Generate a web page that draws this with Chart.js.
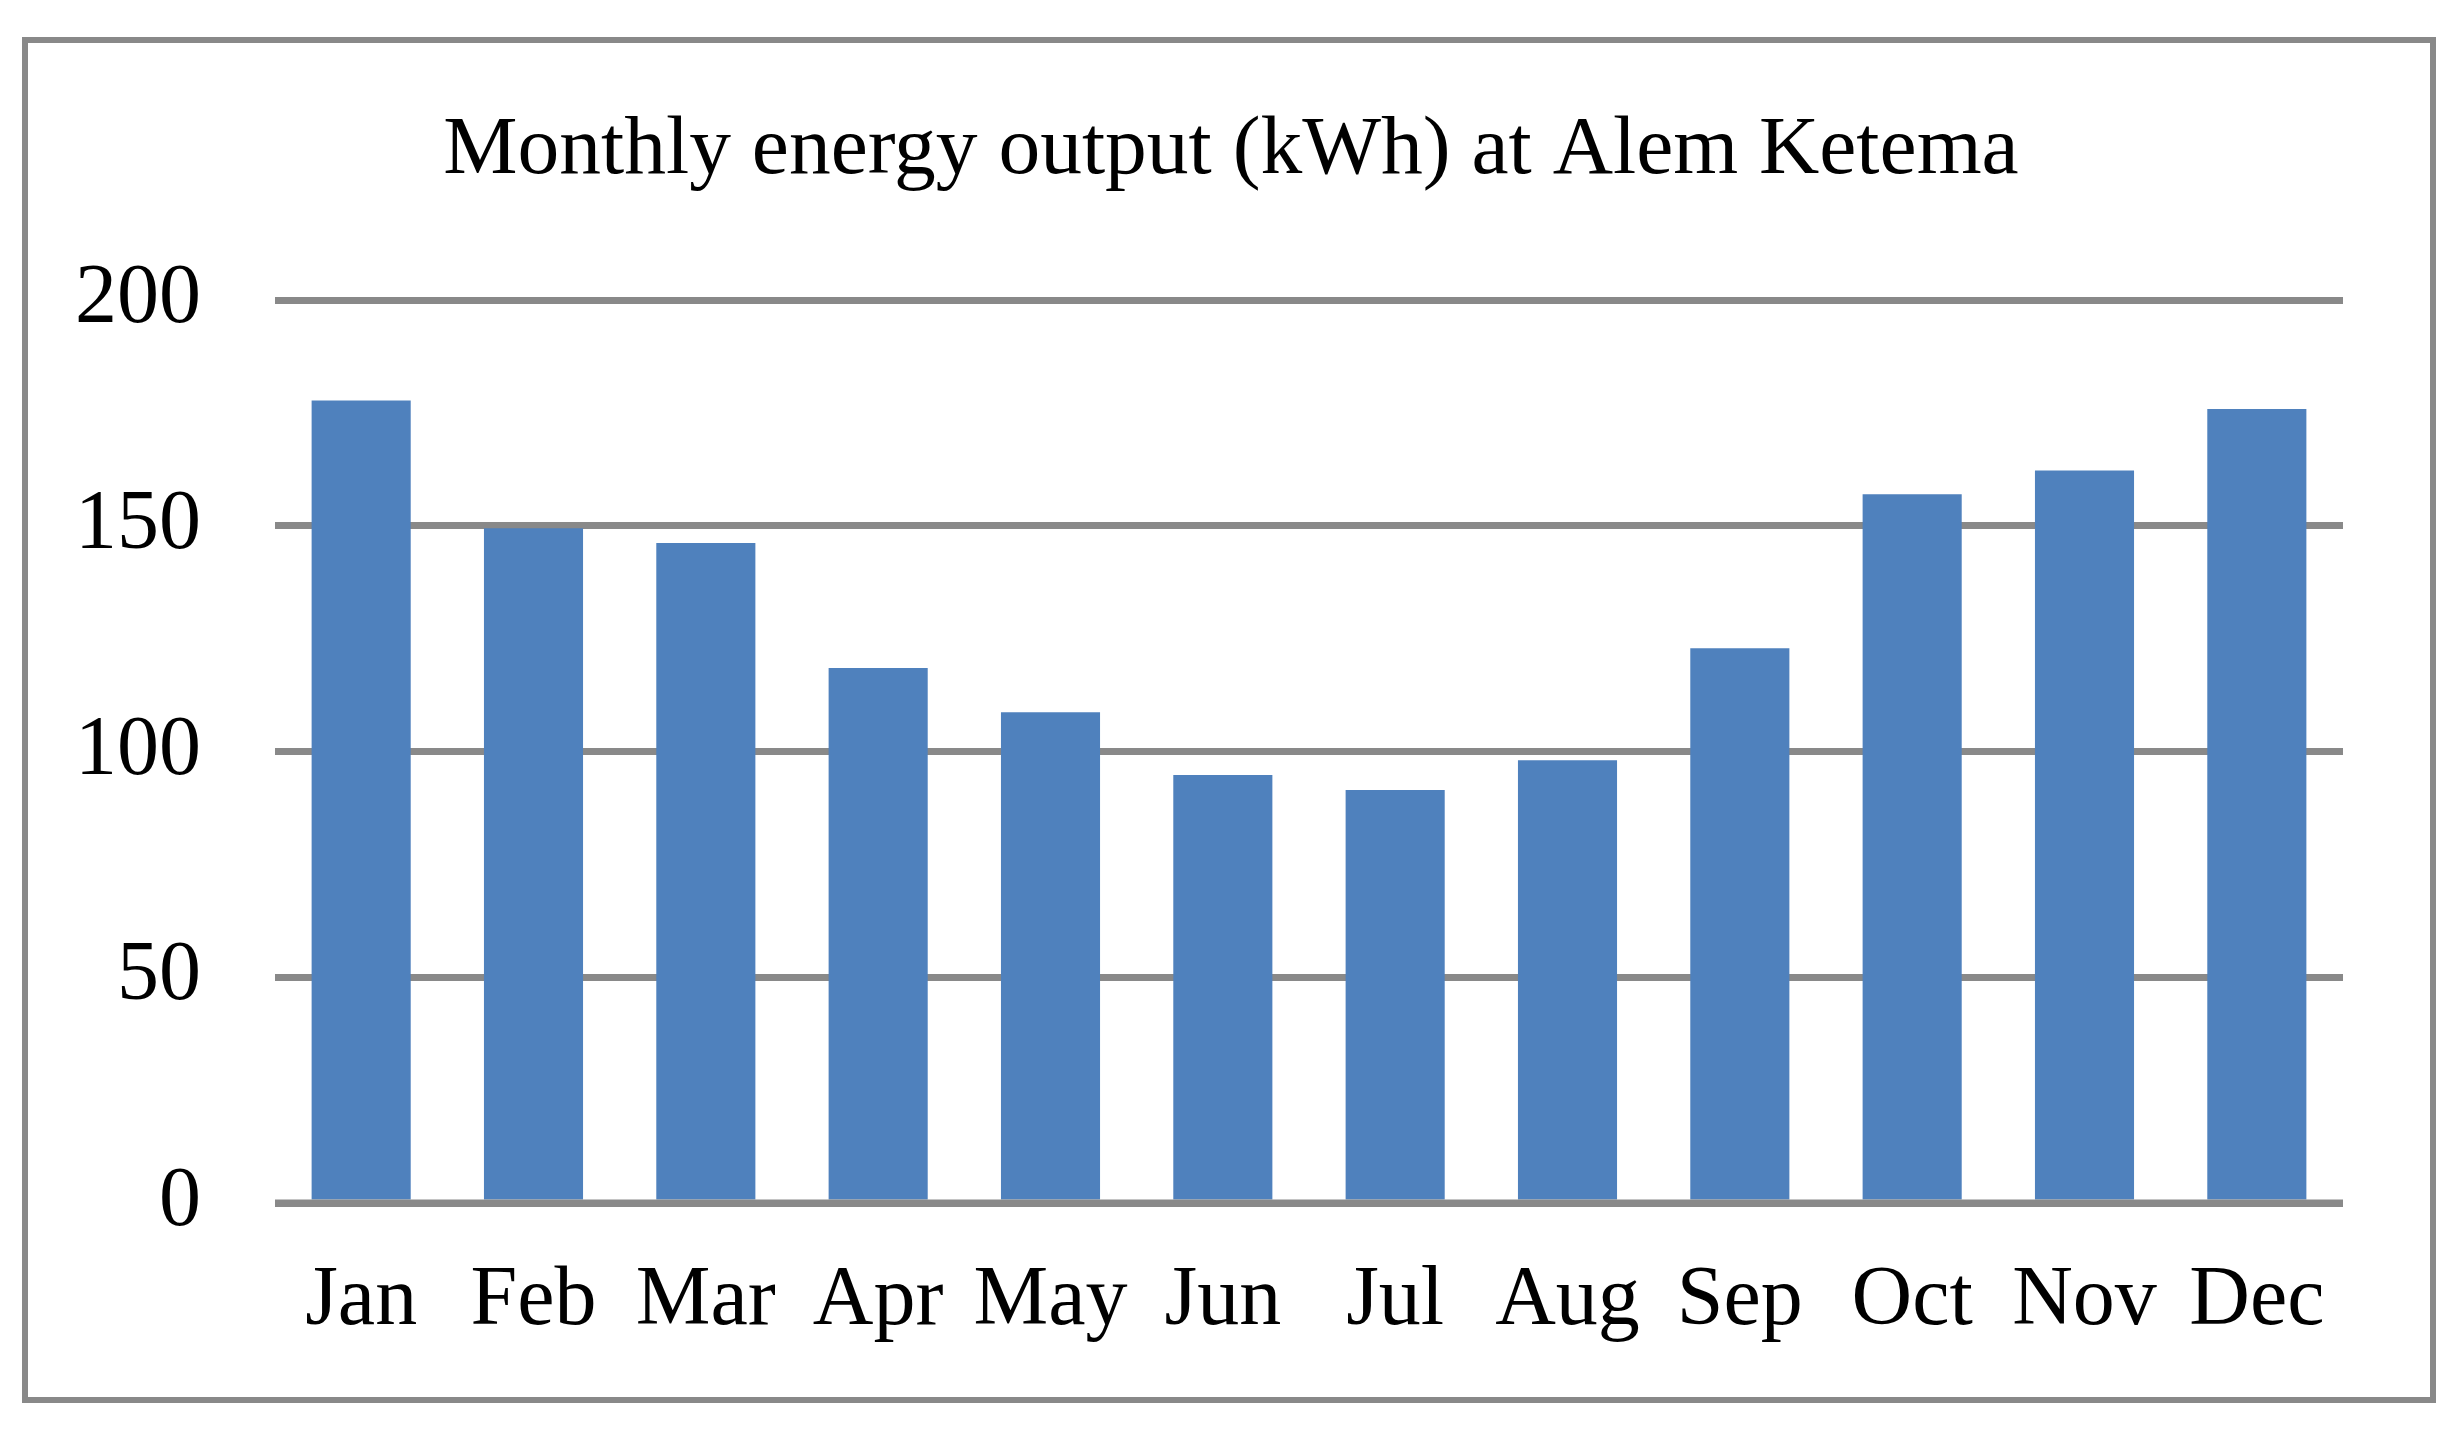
<!DOCTYPE html>
<html>
<head>
<meta charset="utf-8">
<script src="https://cdn.jsdelivr.net/npm/chart.js@4/dist/chart.umd.min.js"></script>
<style>
  html, body { margin: 0; padding: 0; background: #fff; }
  #frame {
    position: absolute; left: 22px; top: 37px;
    width: 2414px; height: 1366px;
    box-sizing: border-box; border: 6px solid #898989;
  }
  #energyChart { position: absolute; left: 0; top: 0; }
</style>
</head>
<body>
<div id="frame"></div>
<canvas id="energyChart" width="2462" height="1432"></canvas>
<script>
// Data
const months = ['Jan', 'Feb', 'Mar', 'Apr', 'May', 'Jun', 'Jul', 'Aug', 'Sep', 'Oct', 'Nov', 'Dec'];
const energyOutput = [177.8, 149.5, 146.2, 118.5, 108.7, 94.8, 91.5, 98.1, 122.9, 157.0, 162.3, 175.9];
const yTicks = [0, 50, 100, 150, 200];

document.addEventListener('DOMContentLoaded', () => {
  const serif = "'Liberation Serif', 'Times New Roman', serif";

  // redraw the zero line on top of the bars
  const zeroLine = {
    id: 'zeroLine',
    afterDatasetsDraw(chart) {
      const y = chart.scales.y.getPixelForValue(0);
      const ctx = chart.ctx;
      ctx.save();
      ctx.strokeStyle = '#898989';
      ctx.lineWidth = 7;
      ctx.beginPath();
      ctx.moveTo(chart.chartArea.left, y);
      ctx.lineTo(chart.chartArea.right, y);
      ctx.stroke();
      ctx.restore();
    }
  };

  const canvas = document.getElementById('energyChart');
  new Chart(canvas, {
    type: 'bar',
    data: {
      labels: months,
      datasets: [{
        data: energyOutput,
        backgroundColor: '#4F81BD',
        borderWidth: 0,
        barPercentage: 0.575,
        categoryPercentage: 1.0,
      }],
    },
    options: {
      responsive: false,
      animation: false,
      devicePixelRatio: 1,
      layout: { padding: 0 },
      plugins: {
        legend: { display: false },
        tooltip: { enabled: false },
        title: {
          display: true,
          text: 'Monthly energy output (kWh) at Alem Ketema',
          color: '#000',
          font: { family: serif, size: 83.5, weight: 'normal' },
          padding: { top: 101, bottom: 99 },
        },
      },
      scales: {
        x: {
          grid: { display: false, drawTicks: false },
          border: { display: false },
          ticks: {
            color: '#000',
            font: { family: serif, size: 84 },
            padding: 49,
            maxRotation: 0,
            autoSkip: false,
          },
          afterFit: (scale) => { scale.height = 229; },
        },
        y: {
          min: 0,
          max: 200,
          grid: { color: '#898989', lineWidth: 7, drawTicks: false },
          border: { display: false },
          afterBuildTicks: (scale) => { scale.ticks = yTicks.map(v => ({ value: v })); },
          ticks: {
            color: '#000',
            font: { family: serif, size: 84 },
            padding: 74,
          },
          afterFit: (scale) => { scale.width = 275; },
        },
        // empty right-hand spacer so the plot stops short of the frame
        spacer: {
          type: 'linear',
          position: 'right',
          display: true,
          grid: { display: false },
          border: { display: false },
          ticks: { display: false },
          afterFit: (scale) => { scale.width = 119; },
        },
      },
    },
    plugins: [zeroLine],
  });
});
</script>
</body>
</html>
